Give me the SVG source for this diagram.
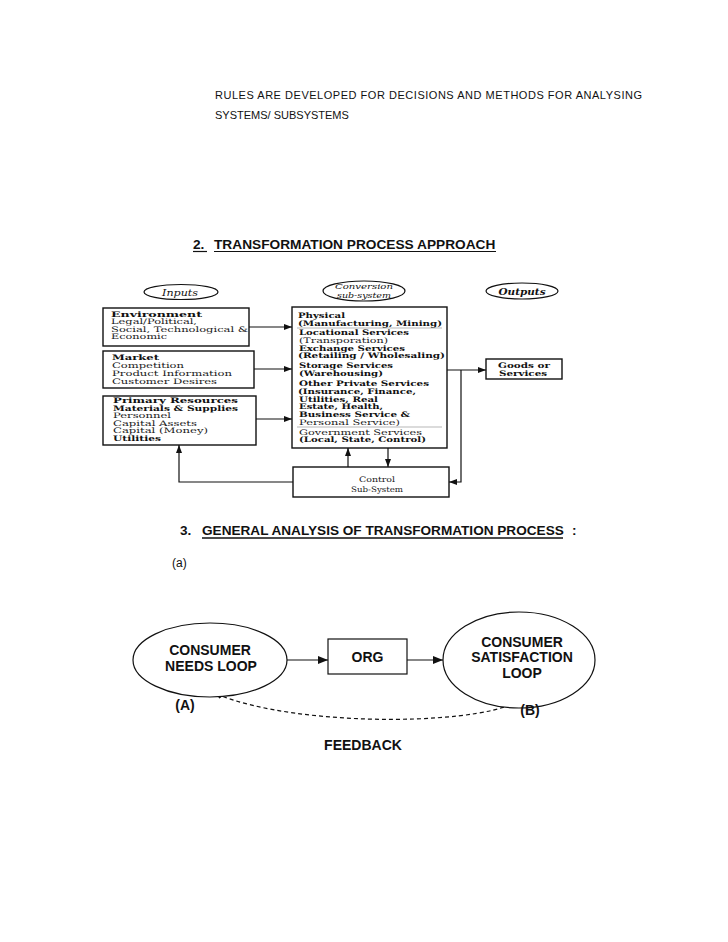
<svg xmlns="http://www.w3.org/2000/svg" width="728" height="942" viewBox="0 0 728 942">
<defs>
<marker id="ah" viewBox="0 0 8 6" refX="8" refY="3" markerWidth="8" markerHeight="6" markerUnits="userSpaceOnUse" orient="auto">
<path d="M0,0 L8,3 L0,6 Z" fill="#111"/>
</marker>
<marker id="ah2" viewBox="0 0 10 8" refX="10" refY="4" markerWidth="10" markerHeight="8" markerUnits="userSpaceOnUse" orient="auto">
<path d="M0,0 L10,4 L0,8 Z" fill="#111"/>
</marker>
<style>
.doc{font-family:"Liberation Sans",Arial,sans-serif;fill:#111}
.hd{font-family:"Liberation Sans",Arial,sans-serif;font-weight:bold;fill:#111}
.sc{font-family:"DejaVu Serif","Liberation Serif",serif;font-size:7.6px;fill:#1a1a1a}
.scb{font-family:"DejaVu Serif","Liberation Serif",serif;font-size:7.6px;font-weight:bold;fill:#111}
.it{font-family:"DejaVu Serif","Liberation Serif",serif;font-style:italic;fill:#111;text-anchor:middle}
.box{fill:#fff;stroke:#111;stroke-width:1.4}
.conn{fill:none;stroke:#111;stroke-width:1.2}
.sep{stroke:#999;stroke-width:0.7}
.d2{font-family:"Liberation Sans",Arial,sans-serif;font-weight:bold;font-size:14px;fill:#111;text-anchor:middle}
.nd{fill:#fff;stroke:#111;stroke-width:1.2}
</style>
</defs>
<rect width="728" height="942" fill="#fff"/>

<!-- document text -->
<text class="doc" x="215" y="99" font-size="11" textLength="427" lengthAdjust="spacing">RULES ARE DEVELOPED FOR DECISIONS AND METHODS FOR ANALYSING</text>
<text class="doc" x="215" y="119" font-size="11">SYSTEMS/ SUBSYSTEMS</text>

<text class="hd" x="193" y="249" font-size="13.7">2.</text>
<text class="hd" x="214" y="249" font-size="13.7">TRANSFORMATION PROCESS APPROACH</text>
<line x1="193" y1="251.5" x2="207" y2="251.5" stroke="#111" stroke-width="1.2"/>
<line x1="214" y1="251.5" x2="496" y2="251.5" stroke="#111" stroke-width="1.2"/>

<text class="hd" x="180" y="535" font-size="13.6">3.</text>
<text class="hd" x="202" y="535" font-size="13.6">GENERAL ANALYSIS OF TRANSFORMATION PROCESS</text>
<line x1="202" y1="538" x2="563" y2="538" stroke="#111" stroke-width="1.4"/>
<text class="hd" x="572" y="535" font-size="13.6">:</text>
<text class="doc" x="172" y="567" font-size="12">(a)</text>

<!-- Diagram 1: Transformation process -->
<g id="connectors1">
<line class="conn" x1="249" y1="327" x2="292" y2="327" marker-end="url(#ah)"/>
<line class="conn" x1="254" y1="369" x2="292" y2="369" marker-end="url(#ah)"/>
<line class="conn" x1="256" y1="419" x2="292" y2="419" marker-end="url(#ah)"/>
<line class="conn" x1="447" y1="370" x2="486" y2="370" marker-end="url(#ah)"/>
<polyline class="conn" points="461,370 461,482 449,482" marker-end="url(#ah)"/>
<polyline class="conn" points="293,482 179,482 179,445" marker-end="url(#ah)"/>
<line class="conn" x1="348" y1="467" x2="348" y2="448" marker-end="url(#ah)"/>
<line class="conn" x1="388" y1="448" x2="388" y2="467" marker-end="url(#ah)"/>
</g>

<g id="inputs">
<ellipse class="nd" cx="181" cy="292" rx="37" ry="7.5"/>
<text class="it" x="180" y="295.5" font-size="9.5" textLength="36" lengthAdjust="spacingAndGlyphs">Inputs</text>
</g>

<g id="environment">
<rect class="box" x="103" y="308" width="146" height="38"/>
<text class="scb" x="111" y="316.8" textLength="91" lengthAdjust="spacingAndGlyphs">Environment</text>
<text class="sc" x="111" y="324.2" textLength="86" lengthAdjust="spacingAndGlyphs">Legal/Political,</text>
<text class="sc" x="111" y="331.7" textLength="137" lengthAdjust="spacingAndGlyphs">Social, Technological &amp;</text>
<text class="sc" x="111" y="339.2" textLength="56" lengthAdjust="spacingAndGlyphs">Economic</text>
</g>

<g id="market">
<rect class="box" x="103" y="351" width="151" height="37"/>
<text class="scb" x="112" y="360" textLength="47" lengthAdjust="spacingAndGlyphs">Market</text>
<text class="sc" x="112" y="367.5" textLength="72" lengthAdjust="spacingAndGlyphs">Competition</text>
<text class="sc" x="112" y="375.5" textLength="120" lengthAdjust="spacingAndGlyphs">Product Information</text>
<text class="sc" x="112" y="383.5" textLength="105" lengthAdjust="spacingAndGlyphs">Customer Desires</text>
</g>

<g id="primary-resources">
<rect class="box" x="103" y="396" width="153" height="49"/>
<text class="scb" x="113" y="403" textLength="125" lengthAdjust="spacingAndGlyphs">Primary Resources</text>
<text class="scb" x="113" y="410.5" textLength="125" lengthAdjust="spacingAndGlyphs">Materials &amp; Supplies</text>
<text class="sc" x="113" y="418" textLength="58" lengthAdjust="spacingAndGlyphs">Personnel</text>
<text class="sc" x="113" y="425.5" textLength="84" lengthAdjust="spacingAndGlyphs">Capital Assets</text>
<text class="sc" x="113" y="433" textLength="95" lengthAdjust="spacingAndGlyphs">Capital (Money)</text>
<text class="scb" x="113" y="441" textLength="48" lengthAdjust="spacingAndGlyphs">Utilities</text>
</g>

<g id="conversion-label">
<ellipse class="nd" cx="364" cy="291" rx="41" ry="10"/>
<text class="it" x="364" y="289" font-size="8" textLength="58" lengthAdjust="spacingAndGlyphs">Conversion</text>
<text class="it" x="364" y="297.5" font-size="8" textLength="54" lengthAdjust="spacingAndGlyphs">sub-system</text>
</g>

<g id="conversion">
<rect class="box" x="292" y="307" width="155" height="141"/>
<line class="sep" x1="297" y1="328" x2="442" y2="328"/>
<line class="sep" x1="297" y1="427" x2="442" y2="427"/>
<text class="scb" x="298" y="318" textLength="47" lengthAdjust="spacingAndGlyphs">Physical</text>
<text class="scb" x="298" y="325.5" textLength="144" lengthAdjust="spacingAndGlyphs">(Manufacturing, Mining)</text>
<text class="scb" x="299" y="335" textLength="110" lengthAdjust="spacingAndGlyphs">Locational Services</text>
<text class="sc" x="299" y="342.5" textLength="89" lengthAdjust="spacingAndGlyphs">(Transporation)</text>
<text class="scb" x="299" y="350.5" textLength="106" lengthAdjust="spacingAndGlyphs">Exchange Services</text>
<text class="scb" x="298" y="358" textLength="147" lengthAdjust="spacingAndGlyphs">(Retailing / Wholesaling)</text>
<text class="scb" x="299" y="368" textLength="94" lengthAdjust="spacingAndGlyphs">Storage Services</text>
<text class="scb" x="299" y="375.5" textLength="84" lengthAdjust="spacingAndGlyphs">(Warehousing)</text>
<text class="scb" x="299" y="386" textLength="130" lengthAdjust="spacingAndGlyphs">Other Private Services</text>
<text class="scb" x="298" y="394" textLength="118" lengthAdjust="spacingAndGlyphs">(Insurance, Finance,</text>
<text class="scb" x="299" y="401.5" textLength="79" lengthAdjust="spacingAndGlyphs">Utilities, Real</text>
<text class="scb" x="299" y="409" textLength="84" lengthAdjust="spacingAndGlyphs">Estate, Health,</text>
<text class="scb" x="299" y="417" textLength="111" lengthAdjust="spacingAndGlyphs">Business Service &amp;</text>
<text class="sc" x="299" y="424.5" textLength="101" lengthAdjust="spacingAndGlyphs">Personal Service)</text>
<text class="sc" x="299" y="434.5" textLength="123" lengthAdjust="spacingAndGlyphs">Government Services</text>
<text class="scb" x="299" y="442" textLength="127" lengthAdjust="spacingAndGlyphs">(Local, State, Control)</text>
</g>

<g id="outputs-label">
<ellipse class="nd" cx="522" cy="291" rx="36" ry="8"/>
<text class="it" x="522" y="294.5" font-size="9.5" font-weight="bold" textLength="47" lengthAdjust="spacingAndGlyphs">Outputs</text>
</g>

<g id="goods-services">
<rect class="box" x="486" y="359" width="76" height="20"/>
<text class="scb" x="498" y="367.5" textLength="52" lengthAdjust="spacingAndGlyphs">Goods or</text>
<text class="scb" x="499" y="376" textLength="48" lengthAdjust="spacingAndGlyphs">Services</text>
</g>

<g id="control">
<rect class="box" x="293" y="467" width="156" height="30"/>
<text class="sc" x="377" y="481.5" text-anchor="middle" textLength="36" lengthAdjust="spacingAndGlyphs">Control</text>
<text class="sc" x="377" y="491.5" text-anchor="middle" textLength="52" lengthAdjust="spacingAndGlyphs">Sub-System</text>
</g>

<!-- Diagram 2: General analysis -->
<g id="connectors2">
<line class="conn" x1="287" y1="660" x2="328" y2="660" marker-end="url(#ah2)"/>
<line class="conn" x1="407" y1="660" x2="443" y2="660" marker-end="url(#ah2)"/>
<path class="conn" d="M522,697 C500,725 300,730 214,693" stroke-dasharray="4 3" stroke-width="1" marker-end="url(#ah)"/>
</g>

<g id="consumer-needs">
<ellipse class="nd" cx="210" cy="660" rx="77" ry="37"/>
<text class="d2" x="210" y="655">CONSUMER</text>
<text class="d2" x="211" y="671">NEEDS LOOP</text>
</g>

<g id="org">
<rect class="nd" x="328" y="639" width="79" height="35"/>
<text class="d2" x="367.5" y="662">ORG</text>
</g>

<g id="consumer-satisfaction">
<ellipse class="nd" cx="519" cy="660" rx="76" ry="48"/>
<text class="d2" x="522" y="647">CONSUMER</text>
<text class="d2" x="522" y="662">SATISFACTION</text>
<text class="d2" x="522" y="678">LOOP</text>
</g>

<text class="d2" x="185" y="710">(A)</text>
<text class="d2" x="530" y="715">(B)</text>
<text class="d2" x="363" y="750">FEEDBACK</text>
</svg>
